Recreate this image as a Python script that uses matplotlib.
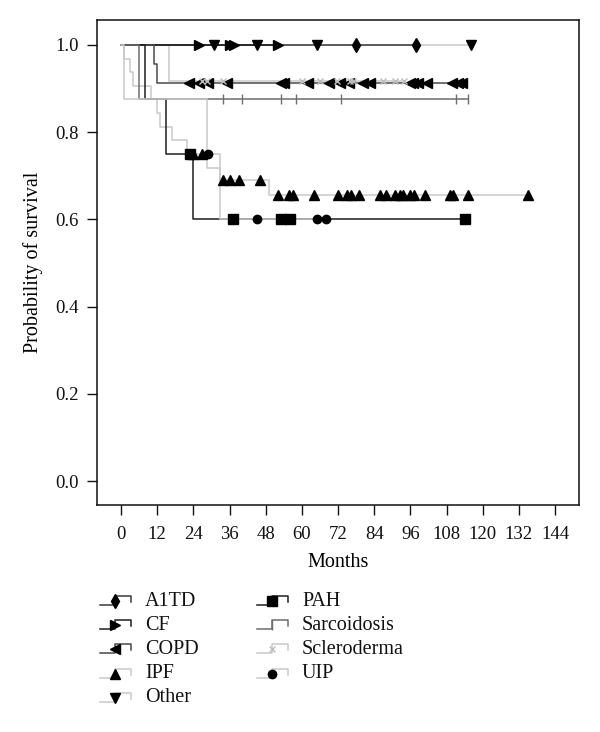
import numpy as np
import matplotlib
matplotlib.use("Agg")
import matplotlib.pyplot as plt

plt.rcParams['font.family'] = ['Liberation Serif', 'DejaVu Serif']

# ---- data ----
groups = ["A1TD", "CF", "COPD", "IPF", "Other", "PAH", "Sarcoidosis", "Scleroderma", "UIP"]

a1td_event_t = []
a1td_event_s = []
a1td_censor = [78, 98]
a1td_end = 98

cf_event_t = []
cf_event_s = []
cf_censor = [26, 36, 37.5, 52]
cf_end = 52

copd_event_t = [11, 12]
copd_event_s = [0.957, 0.913]
copd_censor = [22.6, 25.8, 28.8, 35.1, 53, 54, 62, 68.9, 72.7, 75.7, 80.3, 82.6,
               95.8, 97, 98.6, 101.5, 109.7, 111.8, 113.1]
copd_end = 113.1

ipf_event_t = [1, 3, 4, 10, 12, 13, 17, 22, 28.5, 33, 49]
ipf_event_s = [0.969, 0.938, 0.906, 0.875, 0.844, 0.813, 0.781, 0.75, 0.718, 0.69, 0.657]
ipf_censor = [24, 27, 33.7, 36.2, 39.2, 46, 52, 55.8, 57, 64, 72, 74.9, 76.2, 79, 86, 88,
              91, 92.6, 93.5, 96, 97.2, 101, 109, 110, 115, 135]
ipf_end = 135

other_event_t = []
other_event_s = []
other_censor = [31, 45, 65, 116]
other_end = 116

pah_event_t = [8, 15, 24]
pah_event_s = [0.875, 0.75, 0.6]
pah_censor = [23, 37, 53, 56, 114]
pah_end = 114

sarc_event_t = [6]
sarc_event_s = [0.875]
sarc_censor = [34, 40, 53, 58, 73, 111, 115]
sarc_end = 115

sclero_event_t = [16]
sclero_event_s = [0.917]
sclero_censor = [27, 28.5, 34, 60, 66, 71.7, 76, 77, 86.8, 91, 94]
sclero_end = 94

uip_event_t = [1, 28.5, 33]
uip_event_s = [0.875, 0.75, 0.6]
uip_censor = [29, 45, 65, 68]
uip_end = 68

x_ticks = [0, 12, 24, 36, 48, 60, 72, 84, 96, 108, 120, 132, 144]
y_ticks = [0.0, 0.2, 0.4, 0.6, 0.8, 1.0]

# ---- styles ----
dark = "#1e1e1e"
mid = "#6e6e6e"
light = "#c9c9c9"
styles = {
    "A1TD": dict(color="#3a3a3a", marker="d", mcolor="black", ms=7),
    "CF": dict(color=dark, marker=">", mcolor="black", ms=7),
    "COPD": dict(color="#4a4a4a", marker="<", mcolor="black", ms=7),
    "IPF": dict(color=light, marker="^", mcolor="black", ms=7),
    "Other": dict(color=light, marker="v", mcolor="black", ms=7),
    "PAH": dict(color=dark, marker="s", mcolor="black", ms=6.5),
    "Sarcoidosis": dict(color=mid, marker="|", mcolor=mid, ms=7),
    "Scleroderma": dict(color=light, marker="x", mcolor="#bdbdbd", ms=5),
    "UIP": dict(color=light, marker="o", mcolor="black", ms=6),
}

curves = {
    "A1TD": (a1td_event_t, a1td_event_s, a1td_censor, a1td_end),
    "CF": (cf_event_t, cf_event_s, cf_censor, cf_end),
    "COPD": (copd_event_t, copd_event_s, copd_censor, copd_end),
    "IPF": (ipf_event_t, ipf_event_s, ipf_censor, ipf_end),
    "Other": (other_event_t, other_event_s, other_censor, other_end),
    "PAH": (pah_event_t, pah_event_s, pah_censor, pah_end),
    "Sarcoidosis": (sarc_event_t, sarc_event_s, sarc_censor, sarc_end),
    "Scleroderma": (sclero_event_t, sclero_event_s, sclero_censor, sclero_end),
    "UIP": (uip_event_t, uip_event_s, uip_censor, uip_end),
}

fig = plt.figure(figsize=(6.0, 7.32), dpi=100)
ax = fig.add_axes([97 / 600, 1 - 505 / 732, 482 / 600, 485 / 732])

zorders = {"Other": 2, "IPF": 2.1, "Scleroderma": 2.2, "A1TD": 2.5, "CF": 2.6,
           "COPD": 2.7, "PAH": 2.8, "Sarcoidosis": 2.9, "UIP": 3.0}

for g in groups:
    et, es, cens, end = curves[g]
    st = styles[g]
    t = [0] + list(et) + [end]
    s = [1.0] + list(es) + [es[-1] if es else 1.0]
    ax.step(t, s, where="post", color=st["color"], lw=1.1, zorder=zorders[g])
    tt = np.array([0] + list(et))
    ss = np.array([1.0] + list(es))
    idx = np.searchsorted(tt, np.array(cens), side="right") - 1
    cy = ss[idx]
    ax.plot(cens, cy, linestyle="none", marker=st["marker"], ms=st["ms"],
            color=st["mcolor"], mec=st["mcolor"], mew=1.0, zorder=4)

ax.set_xlim(-7.96, 151.95)
ax.set_ylim(-0.055, 1.0573)
ax.set_xticks(x_ticks)
ax.set_xticklabels([str(v) for v in x_ticks])
ax.set_yticks(y_ticks)
ax.set_yticklabels([f"{v:.1f}" for v in y_ticks])
ax.tick_params(axis="both", direction="out", length=7, width=1, labelsize=13.5, colors="#111111")
ax.tick_params(axis="x", pad=8)
ax.tick_params(axis="y", pad=6)
for sp in ax.spines.values():
    sp.set_linewidth(1.1)
    sp.set_color("#111111")
ax.set_xlabel("Months", fontsize=14.5, labelpad=7)
ax.set_ylabel("Probability of survival", fontsize=14.5, labelpad=9)

# ---- legend drawn as small step symbols below the plot ----
lax = fig.add_axes([0, 0, 1, 1])
lax.set_xlim(0, 600)
lax.set_ylim(732, 0)
lax.axis("off")
col_x = [100, 257]
row_y = [601, 625, 649, 674, 698]
for i, g in enumerate(groups):
    col = 0 if i < 5 else 1
    row = i if i < 5 else i - 5
    x0 = col_x[col]
    y0 = row_y[row]
    st = styles[g]
    lax.plot([x0, x0 + 15, x0 + 15, x0 + 31, x0 + 31],
             [y0 + 4, y0 + 4, y0 - 5, y0 - 5, y0 + 1],
             color=st["color"], lw=1.1)
    lax.plot([x0 + 15], [y0], linestyle="none", marker=st["marker"], ms=st["ms"],
             color=st["mcolor"], mec=st["mcolor"], mew=1.0)
    lax.text(x0 + 45, y0, g, fontsize=14.5, va="center", ha="left", color="#111111")

fig.savefig("out.png", dpi=100)
